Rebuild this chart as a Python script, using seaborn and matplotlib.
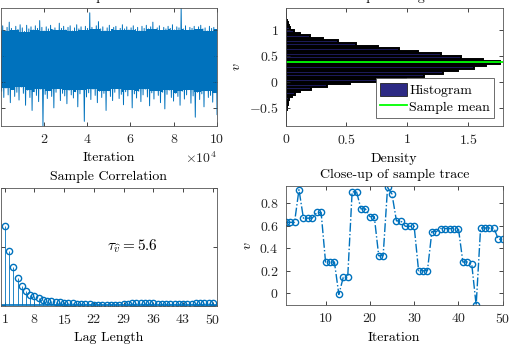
import matplotlib
matplotlib.use("Agg")
import matplotlib.pyplot as plt
from matplotlib.lines import Line2D
from matplotlib.patches import Patch
from matplotlib.ticker import FuncFormatter
import numpy as np
import pandas as pd
import seaborn as sns

plt.rcParams["font.family"] = ["cmr10", "DejaVu Serif"]
plt.rcParams["mathtext.fontset"] = "cm"
plt.rcParams["axes.formatter.use_mathtext"] = True
plt.rcParams["font.size"] = 10

BLUE = "#0072BD"
NAVY = "#2d2a84"
GREEN = "#00ff00"

# trace envelope per block of iterations (upper / lower swings)
trace_upper = [
    1.02, 1.08, 0.98, 1.05, 1.15, 1.03, 0.99, 1.07, 1.01, 1.10,
    1.04, 0.97, 1.09, 1.02, 1.06, 1.00, 1.08, 1.03, 1.18, 1.05,
    0.98, 1.06, 1.02, 1.09, 1.01, 1.04, 0.99, 1.13, 1.03, 1.07,
    1.00, 1.05, 1.08, 0.98, 1.04, 1.10, 1.02, 1.06, 0.99, 1.07,
    1.03, 1.33, 1.05, 1.01, 1.08, 1.16, 1.02, 1.06, 0.98, 1.04,
    1.09, 1.01, 1.05, 1.07, 0.99, 1.03, 1.10, 1.02, 1.06, 1.00,
    1.04, 1.08, 1.01, 1.05, 0.98, 1.07, 1.03, 1.09, 1.02, 1.06,
    1.15, 1.01, 1.04, 1.08, 0.99, 1.05, 1.02, 1.07, 1.03, 1.10,
    1.00, 1.06, 1.04, 1.42, 1.02, 1.08, 0.99, 1.05, 1.03, 1.07,
    1.01, 1.06, 1.09, 1.02, 1.04, 0.98, 1.07, 1.03, 1.05, 1.01,
]
trace_lower = [
    -0.18, -0.30, -0.12, -0.25, -0.40, -0.15, -0.28, -0.20, -0.35, -0.10,
    -0.22, -0.45, -0.16, -0.30, -0.55, -0.19, -0.26, -0.38, -0.14, -0.85,
    -0.24, -0.32, -0.17, -0.28, -0.50, -0.20, -0.13, -0.36, -0.22, -0.27,
    -0.42, -0.16, -0.25, -0.31, -0.19, -0.48, -0.23, -0.15, -0.76, -0.29,
    -0.21, -0.34, -0.14, -0.26, -0.40, -0.18, -0.30, -0.22, -0.55, -0.17,
    -0.28, -0.36, -0.20, -0.13, -0.32, -0.24, -0.44, -0.19, -0.27, -0.15,
    -0.50, -0.23, -0.31, -0.18, -0.38, -0.25, -0.14, -0.29, -0.46, -0.21,
    -0.33, -0.17, -0.26, -0.40, -0.20, -0.52, -0.24, -0.16, -0.30, -0.37,
    -0.22, -0.28, -0.45, -0.18, -0.33, -0.25, -0.15, -0.41, -0.27, -0.68,
    -0.20, -0.34, -0.23, -0.48, -0.17, -0.30, -0.26, -0.39, -0.21, -0.63,
]
n_iter = 100000

# histogram of v (bin edges and densities)
hist_edges = [round(-0.85 + 0.05 * i, 3) for i in range(46)]
hist_density = [
    0.0005, 0.001, 0.002, 0.003, 0.004, 0.006, 0.008, 0.011, 0.015, 0.020,
    0.028, 0.050, 0.075, 0.12, 0.21, 0.34, 0.53, 0.80, 0.99, 1.14,
    1.29, 1.42, 1.55, 1.65, 1.76, 1.62, 1.44, 1.28, 1.09, 0.93,
    0.76, 0.58, 0.43, 0.31, 0.20, 0.12, 0.07, 0.038, 0.024, 0.015,
    0.008, 0.005, 0.003, 0.0015, 0.001,
]
sample_mean = 0.38

# sample autocorrelation
acf_lags = list(range(1, 51))
acf_vals = [
    0.677, 0.465, 0.320, 0.229, 0.163, 0.114, 0.086, 0.071, 0.054, 0.039,
    0.034, 0.030, 0.026, 0.021, 0.017, 0.013, 0.011, 0.010, 0.009, 0.008,
    0.006, 0.001, -0.002, -0.003, -0.002, -0.003, -0.002, -0.001, 0.003, 0.010,
    0.015, 0.018, 0.017, 0.016, 0.012, 0.015, 0.010, 0.006, 0.004, 0.003,
    0.004, 0.003, 0.004, 0.003, 0.005, 0.012, 0.014, 0.013, 0.014, 0.013,
]
tau_text = r"$\tau_{\widehat{v}} = 5.6$"

# first 50 samples
close_iter = list(range(1, 51))
close_vals = [
    0.63, 0.63, 0.63, 0.92, 0.667, 0.667, 0.667, 0.717, 0.717, 0.278,
    0.278, 0.278, -0.009, 0.142, 0.142, 0.90, 0.90, 0.749, 0.749, 0.681,
    0.681, 0.334, 0.334, 0.939, 0.88, 0.643, 0.643, 0.595, 0.595, 0.595,
    0.201, 0.201, 0.201, 0.548, 0.548, 0.575, 0.575, 0.575, 0.575, 0.575,
    0.278, 0.278, 0.26, -0.104, 0.58, 0.58, 0.58, 0.58, 0.48, 0.48,
]

g_fmt = FuncFormatter(lambda v, p: f"${v:g}$")


def style_axes(ax):
    ax.tick_params(direction="in", top=True, right=True, length=3, width=0.6,
                   pad=5, labelsize=10, colors="#262626")
    for s in ax.spines.values():
        s.set_linewidth(0.6)
        s.set_color("#555555")


fig = plt.figure(figsize=(5.32, 3.54), dpi=100)
ax1 = fig.add_axes([0.001, 0.644, 0.407, 0.333])
ax2 = fig.add_axes([0.537, 0.644, 0.408, 0.333])
ax3 = fig.add_axes([0.001, 0.136, 0.407, 0.332])
ax4 = fig.add_axes([0.537, 0.138, 0.408, 0.336])

# trace: solid core where neighbouring swings overlap, thin zig-zag for the spikes
block_x = np.linspace(1, n_iter, len(trace_upper))
core_top = pd.Series(trace_upper).rolling(5, center=True, min_periods=1).min()
core_bot = pd.Series(trace_lower).rolling(5, center=True, min_periods=1).max()
ax1.fill_between(block_x, core_bot, core_top, step="mid", color=BLUE, linewidth=0)
zig = np.ravel(np.column_stack([trace_upper, trace_lower]))
zig_x = np.linspace(1, n_iter, len(zig))
sns.lineplot(x=zig_x, y=zig, ax=ax1, color=BLUE, linewidth=0.7, sort=False, estimator=None)
ax1.set_xlim(0, n_iter)
ax1.set_ylim(-0.85, 1.42)
ax1.set_xticks([20000, 40000, 60000, 80000, 100000])
ax1.set_yticks([-0.5, 0, 0.5, 1])
ax1.ticklabel_format(axis="x", style="sci", scilimits=(4, 4))
ax1.set_xlabel("Iteration")
ax1.set_title("Sample trace", fontsize=10)
style_axes(ax1)
ax1.tick_params(axis="y", labelleft=False)

# histogram
hist_df = pd.DataFrame({
    "v": [(a + b) / 2 for a, b in zip(hist_edges[:-1], hist_edges[1:])],
    "density": hist_density,
})
sns.histplot(data=hist_df, y="v", weights="density", bins=hist_edges, ax=ax2,
             color="#1c1a58", edgecolor="black", linewidth=1.4, alpha=1)
ax2.axhline(sample_mean, color=GREEN, linewidth=1.3)
ax2.set_xlim(0, 1.785)
ax2.set_ylim(-0.85, 1.42)
ax2.set_xticks([0, 0.5, 1, 1.5])
ax2.set_yticks([-0.5, 0, 0.5, 1])
ax2.xaxis.set_major_formatter(g_fmt)
ax2.yaxis.set_major_formatter(g_fmt)
ax2.set_xlabel("Density")
ax2.set_ylabel(r"$v$")
ax2.set_title("Sample histogram", fontsize=10)
handles = [Patch(facecolor=NAVY, edgecolor="#222222", linewidth=0.6),
           Line2D([], [], color=GREEN, linewidth=1.3)]
leg = ax2.legend(handles, ["Histogram", "Sample mean"], loc="lower right", fancybox=False,
                 framealpha=1, edgecolor="#555555", fontsize=10, handlelength=1.9,
                 handleheight=1.1, borderaxespad=0.6, borderpad=0.3,
                 labelspacing=0.15, handletextpad=0.2)
leg.get_frame().set_linewidth(0.6)
style_axes(ax2)

# autocorrelation
ax3.vlines(acf_lags, 0, acf_vals, color=BLUE, linewidth=0.6)
ax3.axhline(0, color=BLUE, linewidth=1.2)
ax3.plot(acf_lags, acf_vals, "o", mfc="none", mec=BLUE, ms=4.5, mew=1)
ax3.text(25, 0.5, tau_text, fontsize=11, va="center", ha="left")
ax3.set_xlim(0, 51)
ax3.set_ylim(-0.01, 1)
ax3.set_xticks(list(range(1, 51, 7)))
ax3.set_xlabel("Lag Length")
ax3.set_title("Sample Correlation", fontsize=10)
style_axes(ax3)
ax3.tick_params(axis="y", labelleft=False)

# close-up
sns.lineplot(x=close_iter, y=close_vals, ax=ax4, color=BLUE, linestyle="-.", linewidth=1,
             marker="o", markersize=4.5, markerfacecolor="none", markeredgecolor=BLUE,
             markeredgewidth=1, estimator=None)
ax4.set_xlim(1, 50)
ax4.set_ylim(-0.104, 0.95)
ax4.set_xticks([10, 20, 30, 40, 50])
ax4.set_yticks([0, 0.2, 0.4, 0.6, 0.8])
ax4.yaxis.set_major_formatter(g_fmt)
ax4.xaxis.set_major_formatter(g_fmt)
ax4.set_xlabel("Iteration")
ax4.set_ylabel(r"$v$")
ax4.set_title("Close-up of sample trace", fontsize=10)
style_axes(ax4)

fig.savefig("out.png", dpi=100)
